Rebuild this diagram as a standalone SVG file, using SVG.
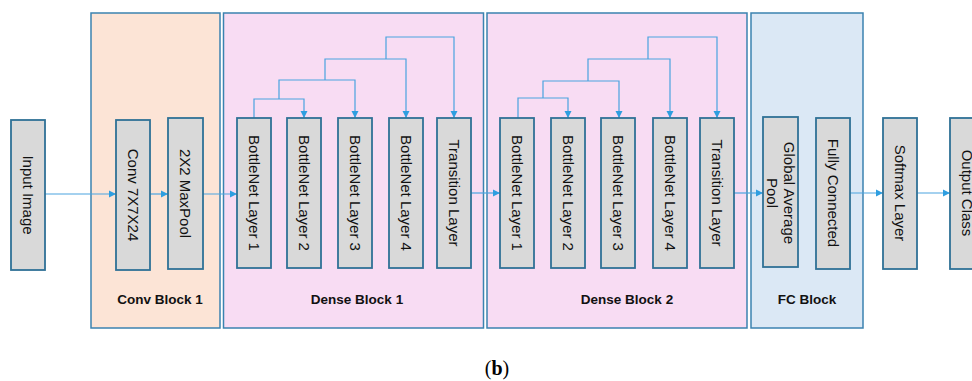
<svg xmlns="http://www.w3.org/2000/svg" width="972" height="381" viewBox="0 0 972 381">
<style>
.blk{stroke:#3b82b0;stroke-width:1.5}
.node rect{fill:#d9d9d9;stroke:#2f7196;stroke-width:1.8}
.node text{font-family:"Liberation Sans",Arial,sans-serif;font-size:15px;fill:#111;text-anchor:middle;dominant-baseline:central}
.lbl{font-family:"Liberation Sans",Arial,sans-serif;font-size:13.5px;font-weight:bold;fill:#111;text-anchor:middle}
.cn{fill:none;stroke:#4aa3e0;stroke-width:1.2}
</style>
<defs>
<marker id="ah" markerWidth="8" markerHeight="8" refX="7" refY="4" orient="auto" markerUnits="userSpaceOnUse">
<path d="M0,0.5 L7,4 L0,7.5 Z" fill="#2e9ee0"/>
</marker>
</defs>
<rect width="972" height="381" fill="#fff"/>
<g id="blocks">
<g id="conv-block"><rect class="blk" x="91" y="13" width="129" height="315" fill="#fce4d6"/><text class="lbl" x="160" y="304">Conv Block 1</text></g>
<g id="dense-block-1"><rect class="blk" x="223.5" y="13" width="260" height="315" fill="#f8dcf3"/><text class="lbl" x="357" y="304">Dense Block 1</text></g>
<g id="dense-block-2"><rect class="blk" x="487" y="13" width="260" height="315" fill="#f8dcf3"/><text class="lbl" x="627" y="304">Dense Block 2</text></g>
<g id="fc-block"><rect class="blk" x="751" y="13" width="112" height="315" fill="#dbe8f5"/><text class="lbl" x="807" y="304">FC Block</text></g>
</g>
<g id="connectors">
<path class="cn" d="M45,194 H116" marker-end="url(#ah)"/>
<path class="cn" d="M150,194 H168" marker-end="url(#ah)"/>
<path class="cn" d="M203,194 H237" marker-end="url(#ah)"/>
<path class="cn" d="M471,193 H500" marker-end="url(#ah)"/>
<path class="cn" d="M734,193 H763" marker-end="url(#ah)"/>
<path class="cn" d="M850,193 H883" marker-end="url(#ah)"/>
<path class="cn" d="M917,193 H950" marker-end="url(#ah)"/>
<path class="cn" d="M254,118 V99 H304 V118" marker-end="url(#ah)"/>
<path class="cn" d="M279,99 V80 H355 V118" marker-end="url(#ah)"/>
<path class="cn" d="M325,80 V59 H406 V118" marker-end="url(#ah)"/>
<path class="cn" d="M386,59 V37 H454 V118" marker-end="url(#ah)"/>
<path class="cn" d="M518,118 V98 H568 V118" marker-end="url(#ah)"/>
<path class="cn" d="M543,98 V81 H619 V118" marker-end="url(#ah)"/>
<path class="cn" d="M588,81 V59 H670 V118" marker-end="url(#ah)"/>
<path class="cn" d="M648,59 V37 H717 V118" marker-end="url(#ah)"/>
</g>
<g id="input-image" class="node"><rect x="11" y="120" width="34" height="150"/><text transform="translate(28,195) rotate(90)">Input Image</text></g>
<g id="conv" class="node"><rect x="116" y="120" width="34" height="150"/><text transform="translate(133,195) rotate(90)">Conv 7X7X24</text></g>
<g id="maxpool" class="node"><rect x="168" y="118" width="35" height="151"/><text transform="translate(185.5,193.5) rotate(90)">2X2 MaxPool</text></g>
<g id="d1-bn1" class="node"><rect x="237" y="118" width="34" height="150"/><text transform="translate(254,193) rotate(90)">BottleNet Layer 1</text></g>
<g id="d1-bn2" class="node"><rect x="287" y="118" width="34" height="150"/><text transform="translate(304,193) rotate(90)">BottleNet Layer 2</text></g>
<g id="d1-bn3" class="node"><rect x="338" y="118" width="34" height="150"/><text transform="translate(355,193) rotate(90)">BottleNet Layer 3</text></g>
<g id="d1-bn4" class="node"><rect x="389" y="118" width="34" height="150"/><text transform="translate(406,193) rotate(90)">BottleNet Layer 4</text></g>
<g id="d1-trans" class="node"><rect x="437" y="118" width="34" height="150"/><text transform="translate(454,193) rotate(90)">Transition Layer</text></g>
<g id="d2-bn1" class="node"><rect x="500" y="118" width="34" height="150"/><text transform="translate(517,193) rotate(90)">BottleNet Layer 1</text></g>
<g id="d2-bn2" class="node"><rect x="551" y="118" width="34" height="150"/><text transform="translate(568,193) rotate(90)">BottleNet Layer 2</text></g>
<g id="d2-bn3" class="node"><rect x="601" y="118" width="34" height="150"/><text transform="translate(618,193) rotate(90)">BottleNet Layer 3</text></g>
<g id="d2-bn4" class="node"><rect x="653" y="118" width="34" height="150"/><text transform="translate(670,193) rotate(90)">BottleNet Layer 4</text></g>
<g id="d2-trans" class="node"><rect x="700" y="118" width="34" height="150"/><text transform="translate(717,193) rotate(90)">Transition Layer</text></g>
<g id="gap" class="node"><rect x="763" y="117" width="35" height="150"/><text transform="translate(789,193) rotate(90)">Global Average</text><text transform="translate(772,193) rotate(90)">Pool</text></g>
<g id="fc" class="node"><rect x="816" y="118" width="34" height="151"/><text transform="translate(833,193) rotate(90)">Fully Connected</text></g>
<g id="softmax" class="node"><rect x="883" y="118" width="34" height="151"/><text transform="translate(900,193) rotate(90)">Softmax Layer</text></g>
<g id="output" class="node"><rect x="950" y="118" width="34" height="151"/><text transform="translate(967,193) rotate(90)">Output Class</text></g>
<text x="497" y="375" font-family="'Liberation Serif',serif" font-size="20" text-anchor="middle">(<tspan font-weight="bold">b</tspan>)</text>
</svg>
